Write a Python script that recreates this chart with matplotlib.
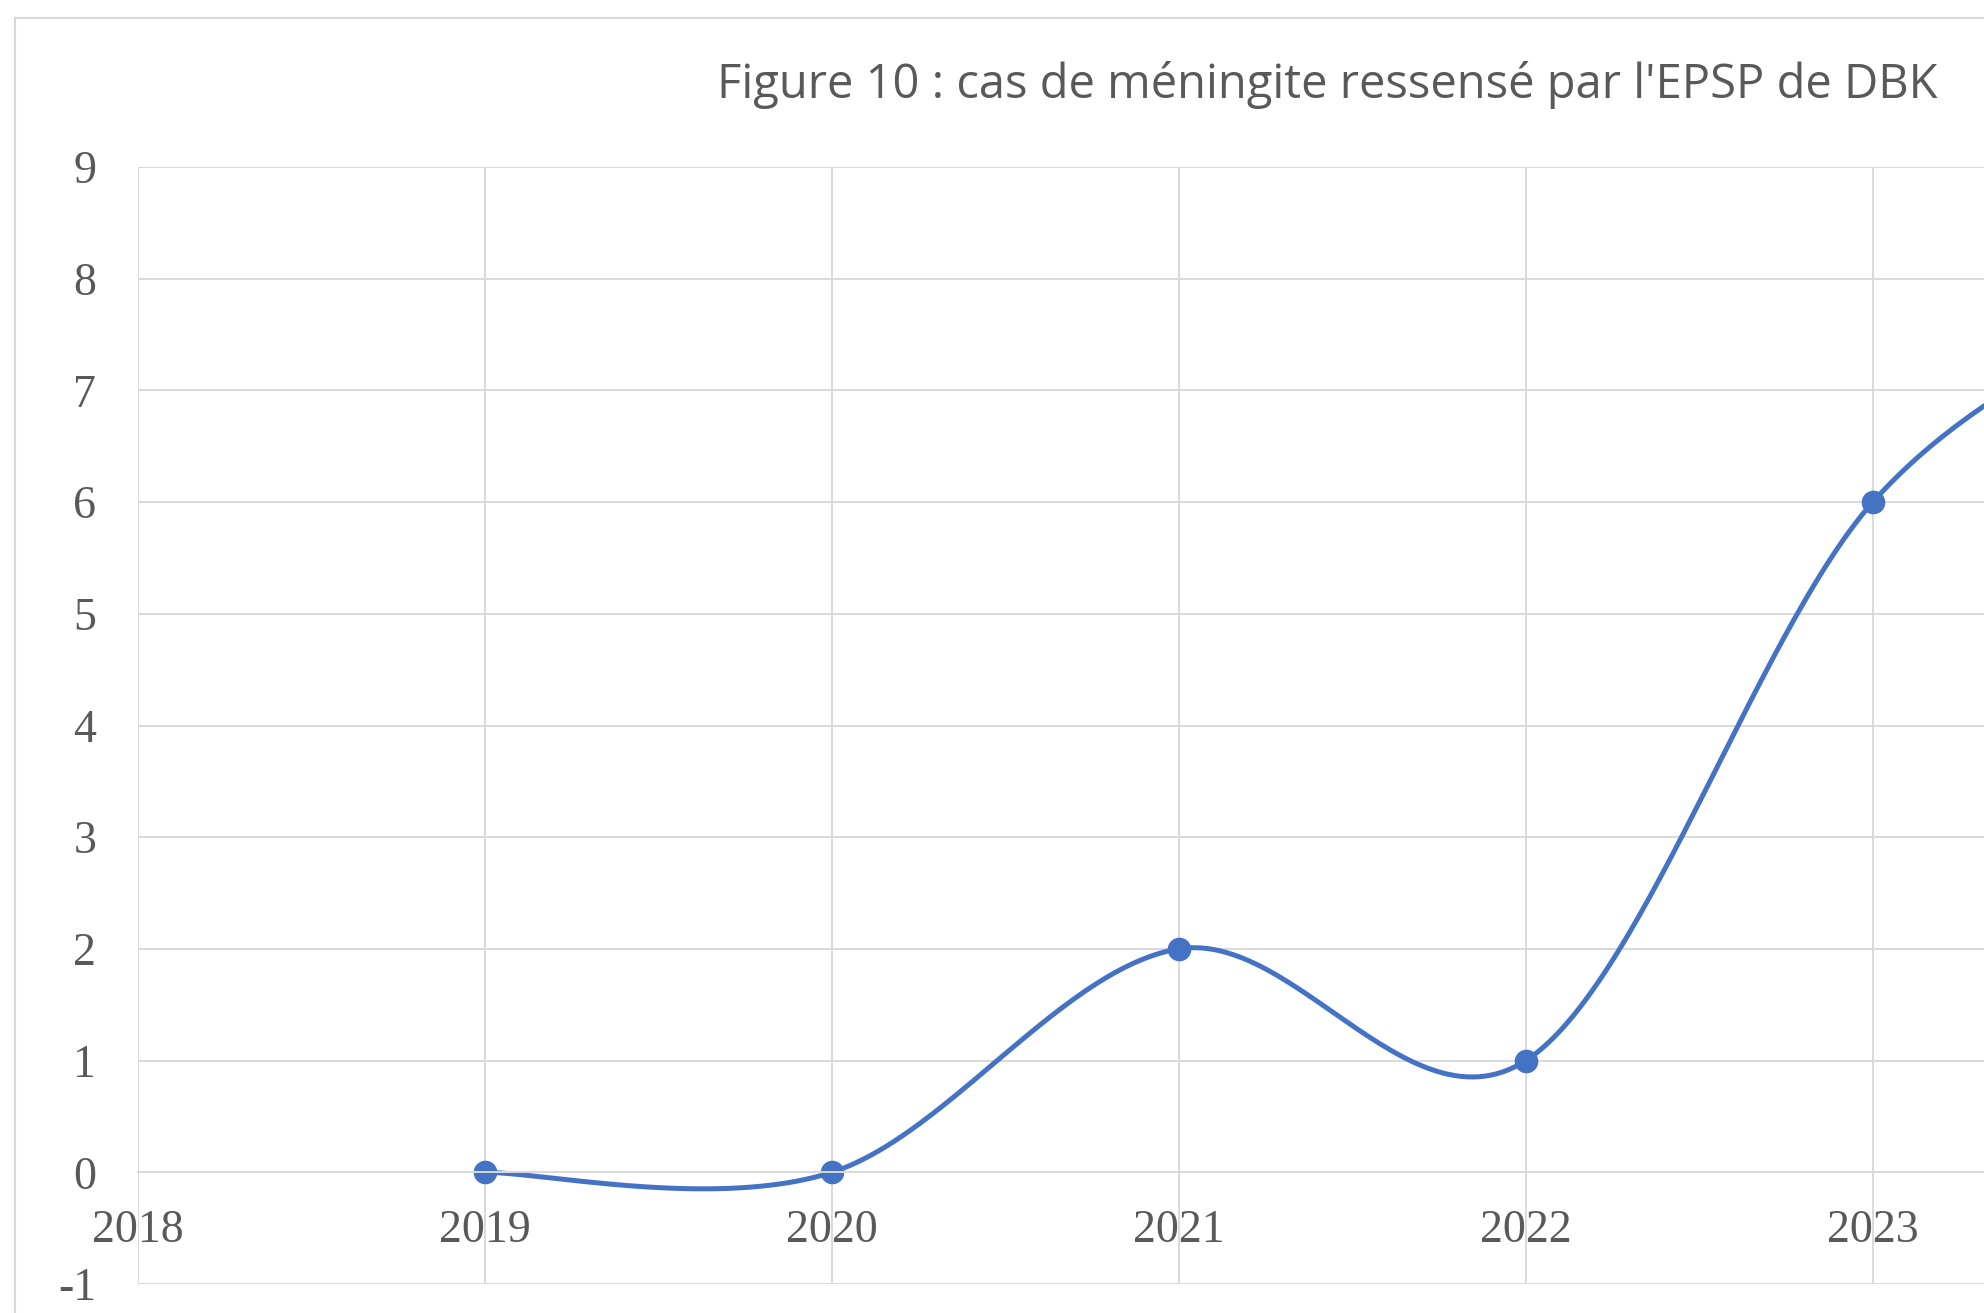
import numpy as np
import matplotlib
matplotlib.use("Agg")
import matplotlib.pyplot as plt
from matplotlib import font_manager
from matplotlib.patches import Rectangle

plt.rcParams["axes.unicode_minus"] = False

# Data
years = [2019, 2020, 2021, 2022, 2023, 2024]
cases = [0, 0, 2, 1, 6, 8]
x_ticks = list(range(2018, 2024))
y_ticks = list(range(-1, 10))
title = "Figure 10 : cas de méningite ressensé par l'EPSP de DBK"

grid_col = "#D9D9D9"
text_col = "#595959"
line_col = "#4472C4"


def smooth(xs, ys, n=60):
    # Bezier smoothing like the spreadsheet "smoothed line" option
    pts = np.column_stack([xs, ys]).astype(float)
    out = []
    for i in range(len(pts) - 1):
        p0 = pts[i - 1] if i > 0 else pts[i]
        p1 = pts[i]
        p2 = pts[i + 1]
        p3 = pts[i + 2] if i + 2 < len(pts) else pts[i + 1]
        c1 = p1 + (p2 - p0) / 6
        c2 = p2 - (p3 - p1) / 6
        t = np.linspace(0, 1, n)[:, None]
        seg = ((1 - t) ** 3) * p1 + 3 * ((1 - t) ** 2) * t * c1 + 3 * (1 - t) * t ** 2 * c2 + t ** 3 * p2
        out.append(seg if i == 0 else seg[1:])
    out = np.vstack(out)
    return out[:, 0], out[:, 1]


W, H = 1984, 1313
fig = plt.figure(figsize=(W / 100, H / 100), dpi=100)

# chart area border (only left/top inside the picture)
fig.patches.append(Rectangle((15 / W, -0.5), 2, 1.5 - 18 / H, transform=fig.transFigure,
                             fill=False, edgecolor=grid_col, linewidth=1.5))

px_year = 346.96
ax = fig.add_axes([138 / W, 1 - 1284 / H, 7 * px_year / W, (1284 - 167) / H])
ax.set_xlim(2018, 2025)
ax.set_ylim(-1, 9)
ax.set_xticks(x_ticks)
ax.set_xticks([2024, 2025], minor=True)
ax.set_yticks(y_ticks)
ax.grid(True, which="both", color=grid_col, linewidth=1.4)
ax.set_axisbelow(True)

for s in ["top", "right", "left"]:
    ax.spines[s].set_visible(False)
ax.spines["bottom"].set_position(("data", 0))
ax.spines["bottom"].set_color(grid_col)
ax.spines["bottom"].set_linewidth(1.4)

ax.tick_params(axis="both", which="both", length=0, labelsize=33, labelcolor=text_col)
ax.tick_params(axis="x", pad=27)
ax.tick_params(axis="y", pad=30)
for lab in ax.get_xticklabels() + ax.get_yticklabels():
    lab.set_family("Liberation Serif")

sx, sy = smooth(years, cases)
ax.plot(sx, sy, color=line_col, linewidth=3.6, solid_capstyle="round")
ax.plot(years, cases, "o", color=line_col, markersize=16)

names = {f.name for f in font_manager.fontManager.ttflist}
tfont = "Liberation Sans Narrow" if "Liberation Sans Narrow" in names else "Open Sans"
t = fig.text(1327 / W, 1 - 85 / H, title, ha="center", va="center",
             fontsize=34, color=text_col, family=tfont)
fig.canvas.draw()
bb = t.get_window_extent()
t.set_fontsize(34 * 1222 / bb.width)

fig.savefig("out.png", dpi=100)
